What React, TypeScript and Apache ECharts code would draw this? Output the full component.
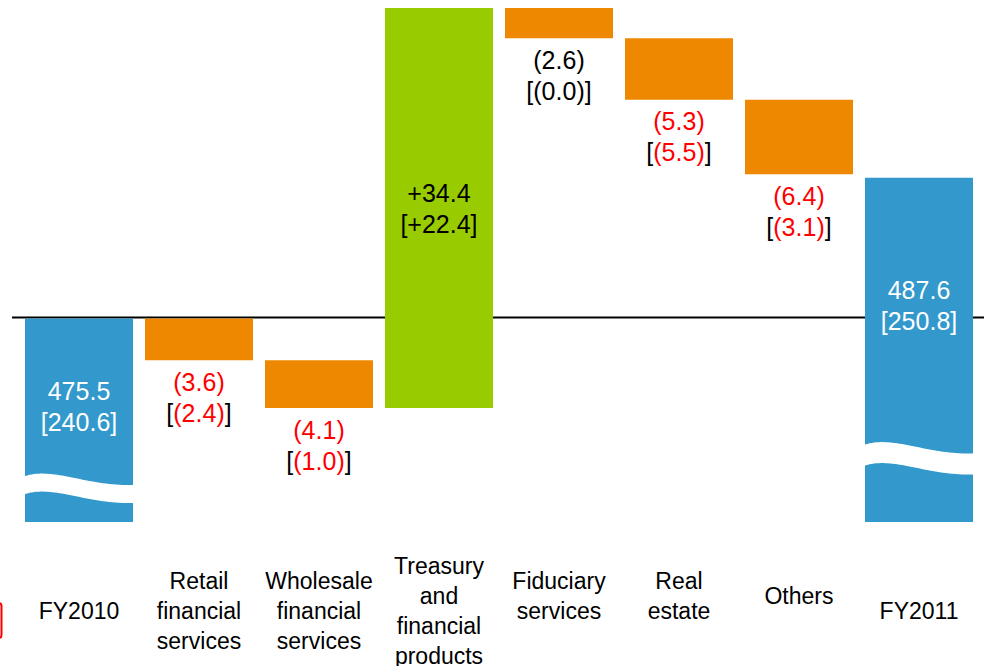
import React, { useEffect, useRef } from "react";
import * as echarts from "echarts";

// ---- data ----
const categories = [
  "FY2010",
  "Retail\nfinancial\nservices",
  "Wholesale\nfinancial\nservices",
  "Treasury\nand\nfinancial\nproducts",
  "Fiduciary\nservices",
  "Real\nestate",
  "Others",
  "FY2011",
];
const kinds = ["total", "delta", "delta", "delta", "delta", "delta", "delta", "total"];
const mainValues = [475.5, -3.6, -4.1, 34.4, -2.6, -5.3, -6.4, 487.6];
const bracketValues = [240.6, -2.4, -1.0, 22.4, -0.0, -5.5, -3.1, 250.8];
const redNumbers = [false, true, true, false, false, true, true, false];
const axisFloor = 458; // visual floor of the broken axis
const referenceLevel = 475.5;

// ---- layout / style ----
const BLUE = "#3399CC";
const ORANGE = "#EE8800";
const GREEN = "#99CC00";
const RED = "#FF0000";
const FONT = "'Liberation Sans', Arial, Helvetica, sans-serif";
const VALUE_FONT_SIZE = 25;
const VALUE_LINE_HEIGHT = 31;
const labelPadLines = [0, 0, 0, 0, 1, 1, 1, 0];
const totalLabelOffset: Record<number, number> = { 0: 88, 7: 128 };
const waveLift: Record<number, number> = { 0: 37, 7: 67 };
const waveThickness: Record<number, number> = { 0: 18, 7: 21 };

// build waterfall segments
let running = 0;
const barData = mainValues.map((v, i) => {
  if (kinds[i] === "total") {
    running = v;
    return [i, axisFloor, v];
  }
  const s = running;
  running = +(running + v).toFixed(4);
  return [i, s, running];
});
const yMax = Math.max(...barData.map((d) => Math.max(d[1], d[2])));

const isNeg = (v: number) => v < 0 || Object.is(v, -0);

function labelText(i: number) {
  const v = mainValues[i];
  const b = bracketValues[i];
  let main: string;
  let inner: string;
  if (kinds[i] === "total") {
    main = v.toFixed(1);
    inner = b.toFixed(1);
  } else {
    main = isNeg(v) ? `(${Math.abs(v).toFixed(1)})` : `+${v.toFixed(1)}`;
    inner = isNeg(b) ? `(${Math.abs(b).toFixed(1)})` : `+${b.toFixed(1)}`;
  }
  return `{m|${main}}\n{k|[}{m|${inner}}{k|]}`;
}

function richFor(i: number) {
  const base = kinds[i] === "total" ? "#FFFFFF" : "#000000";
  const num = redNumbers[i] ? RED : base;
  const common = {
    fontSize: VALUE_FONT_SIZE,
    fontFamily: FONT,
    lineHeight: VALUE_LINE_HEIGHT,
  };
  return {
    m: { ...common, fill: num },
    k: { ...common, fill: base },
  };
}

function bez(t: number, a: number, b: number, c: number, d: number) {
  const u = 1 - t;
  return u * u * u * a + 3 * u * u * t * b + 3 * u * t * t * c + t * t * t * d;
}

export default function App() {
  const ref = useRef<HTMLDivElement>(null);
  useEffect(() => {
    if (!ref.current) return;
    const chart = echarts.init(ref.current, null, { renderer: "svg" });
    chart.setOption({
      animation: false,
      grid: { left: 19, width: 960, top: 8, height: 514, outerBoundsMode: "none", containLabel: false },
      xAxis: {
        type: "category",
        data: categories,
        axisLine: { show: false },
        axisTick: { show: false },
        splitLine: { show: false },
        axisLabel: {
          interval: 0,
          margin: 89,
          verticalAlign: "middle",
          lineHeight: 30,
          fontSize: 23,
          fontFamily: FONT,
          color: "#000000",
          formatter: (val: string, idx: number) => val + "\n".repeat(labelPadLines[idx]),
        },
      },
      yAxis: {
        type: "value",
        min: axisFloor,
        max: yMax,
        show: false,
        splitLine: { show: false },
      },
      graphic: [
        {
          type: "rect",
          shape: { x: -38, y: 603, width: 39.5, height: 35, r: 3 },
          style: { fill: "none", stroke: RED, lineWidth: 2 },
        },
      ],
      series: [
        {
          type: "custom",
          z: 1,
          silent: true,
          data: [[0, referenceLevel]],
          encode: { x: 0, y: 1 },
          renderItem: (params: any, api: any) => {
            const p = api.coord([0, api.value(1)]);
            const cs = params.coordSys;
            return {
              type: "line",
              shape: { x1: cs.x - 7, y1: p[1] - 1, x2: cs.x + cs.width + 5, y2: p[1] - 1 },
              style: { stroke: "#000000", lineWidth: 2 },
            };
          },
        },
        {
          type: "custom",
          z: 2,
          silent: true,
          data: barData,
          encode: { x: 0, y: [1, 2] },
          renderItem: (params: any, api: any) => {
            const i = api.value(0);
            const s = api.value(1);
            const e = api.value(2);
            const p0 = api.coord([i, s]);
            const p1 = api.coord([i, e]);
            const bw = api.size([1, 0])[0] * 0.9;
            const x = p0[0] - bw / 2;
            const cx = p0[0];
            const top = Math.min(p0[1], p1[1]);
            const bottom = Math.max(p0[1], p1[1]);
            const kind = kinds[i];
            const v = mainValues[i];
            const color = kind === "total" ? BLUE : v >= 0 ? GREEN : ORANGE;
            const children: any[] = [
              {
                type: "rect",
                shape: { x, y: top, width: bw, height: bottom - top },
                style: { fill: color },
              },
            ];
            if (kind === "total") {
              const yc = bottom - waveLift[i];
              const th = waveThickness[i];
              const up: number[][] = [];
              const lo: number[][] = [];
              const N = 40;
              for (let k = 0; k <= N; k++) {
                const t = k / N;
                const px = x + bw * bez(t, 0, 0.28, 0.55, 1);
                const py = yc + bez(t, 0, -9, 10, 9);
                up.push([px, py - th / 2]);
                lo.unshift([px, py + th / 2]);
              }
              children.push({
                type: "polygon",
                shape: { points: up.concat(lo) },
                style: { fill: "#FFFFFF" },
              });
            }
            let ty: number;
            let va: string;
            if (kind === "total") {
              ty = top + totalLabelOffset[i];
              va = "middle";
            } else if (v >= 0) {
              ty = (top + bottom) / 2;
              va = "middle";
            } else {
              ty = bottom + 6;
              va = "top";
            }
            children.push({
              type: "text",
              style: {
                x: cx,
                y: ty,
                text: labelText(i),
                rich: richFor(i),
                fontSize: VALUE_FONT_SIZE,
                fontFamily: FONT,
                lineHeight: VALUE_LINE_HEIGHT,
                align: "center",
                verticalAlign: va,
              },
            });
            return { type: "group", children };
          },
        },
      ],
    });
    return () => chart.dispose();
  }, []);
  return (
    <div
      ref={ref}
      style={{ position: "absolute", left: 0, top: 0, width: 984, height: 666 }}
    />
  );
}
